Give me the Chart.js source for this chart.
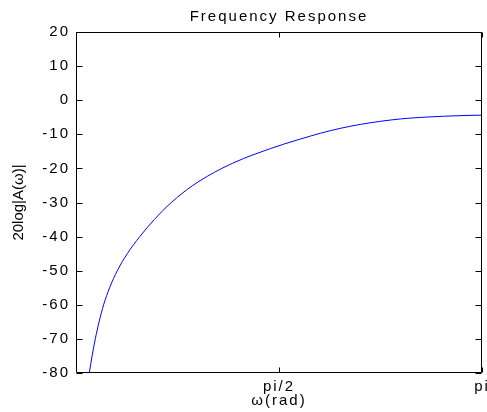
<!DOCTYPE html>
<html>
<head>
<meta charset="utf-8">
<script src="https://cdn.jsdelivr.net/npm/chart.js@4"></script>
<style>
  html, body { margin: 0; padding: 0; background: #ffffff; }
  canvas { display: block; }
</style>
</head>
<body>
<canvas id="c" width="487" height="412"></canvas>
<script>
// ---- data ----
const omega = [0.1029, 0.1246, 0.1493, 0.1787, 0.2136, 0.2600, 0.3196, 0.3969, 0.4937, 0.6059, 0.7374, 0.9038, 1.1282, 1.2969, 1.4005, 1.5035, 1.6064, 1.7356, 1.8904, 2.0451, 2.1999, 2.3546, 2.5094, 2.6641, 2.8444, 3.0255, 3.1416];
const magnitudeDb = [-80, -75, -70, -65, -60, -55, -50, -45, -40, -35, -30, -25, -20, -17.1, -15.6, -14.2, -12.9, -11.4, -9.7, -8.25, -7.1, -6.2, -5.5, -5.05, -4.7, -4.47, -4.38];
const xTickValues = [Math.PI / 2, Math.PI];
const xTickLabels = ['pi/2', 'pi'];
const yTickValues = [20, 10, 0, -10, -20, -30, -40, -50, -60, -70, -80];
const chartTitle = 'Frequency Response';
const xTitle = 'ω(rad)';
const yTitle = '20log|A(ω)|';

const FONT = { family: '"Liberation Sans", Arial, Helvetica, sans-serif', size: 15 };

const framePlugin = {
  id: 'frame',
  beforeDraw(chart) {
    chart.ctx.letterSpacing = '2px';
    const ys = chart.scales.y;
    if (ys && !ys._titlePatched) {
      const orig = ys.drawTitle;
      ys.drawTitle = function () {
        const c = this.ctx;
        const prev = c.letterSpacing;
        c.letterSpacing = '0px';
        orig.call(this);
        c.letterSpacing = prev;
      };
      ys._titlePatched = true;
    }
  },
  afterDraw(chart) {
    const { ctx, chartArea } = chart;
    const x = chart.scales.x, y = chart.scales.y;
    const L = Math.round(chartArea.left) + 0.5, R = Math.round(chartArea.right) - 0.5;
    const T = Math.round(chartArea.top) + 0.5, B = Math.round(chartArea.bottom) - 0.5;
    ctx.save();
    ctx.strokeStyle = '#000000';
    ctx.lineWidth = 1;
    ctx.beginPath();
    ctx.rect(L, T, R - L, B - T);
    y.ticks.forEach((t, i) => {
      const py = Math.round(y.getPixelForTick(i)) + 0.5;
      ctx.moveTo(L, py); ctx.lineTo(L + 6, py);
      ctx.moveTo(R, py); ctx.lineTo(R - 6, py);
    });
    x.ticks.forEach((t, i) => {
      const px = Math.round(x.getPixelForTick(i)) + 0.5;
      ctx.moveTo(px, B); ctx.lineTo(px, B - 5);
      ctx.moveTo(px, T); ctx.lineTo(px, T + 5);
    });
    ctx.stroke();
    ctx.restore();
  }
};

new Chart(document.getElementById('c'), {
  type: 'line',
  data: {
    datasets: [{
      data: omega.map((w, i) => ({ x: w, y: magnitudeDb[i] })),
      borderColor: 'rgb(0,0,255)',
      borderWidth: 1,
      pointRadius: 0,
      fill: false,
      cubicInterpolationMode: 'monotone'
    }]
  },
  options: {
    responsive: false,
    animation: false,
    devicePixelRatio: 1,
    layout: { padding: { left: 0, right: 5, top: 0, bottom: 0 } },
    plugins: { legend: { display: false }, tooltip: { enabled: false }, title: { display: false } },
    scales: {
      x: {
        type: 'linear', position: 'bottom', min: 0, max: Math.PI,
        grid: { display: false, drawTicks: false },
        border: { display: false },
        afterBuildTicks: (s) => { s.ticks = xTickValues.map(v => ({ value: v })); },
        afterFit: (s) => { s.height = 39; s.paddingLeft = 0; s.paddingRight = 0; },
        ticks: {
          color: '#000', font: FONT, padding: 5, maxRotation: 0, autoSkip: false,
          callback: (v, i) => xTickLabels[i]
        },
        title: { display: true, text: xTitle, color: '#000', font: FONT, padding: { top: 0, bottom: 2 } }
      },
      x2: {
        type: 'linear', position: 'top', min: 0, max: Math.PI,
        grid: { display: false, drawTicks: false },
        border: { display: false },
        ticks: { display: false },
        afterFit: (s) => { s.height = 32; s.paddingLeft = 0; s.paddingRight = 0; },
        title: { display: true, text: chartTitle, color: '#000', font: FONT, padding: { top: 7.5, bottom: 0 } }
      },
      y: {
        type: 'linear', position: 'left', min: -80, max: 20,
        grid: { display: false, drawTicks: false },
        border: { display: false },
        afterBuildTicks: (s) => { s.ticks = yTickValues.map(v => ({ value: v })); },
        afterFit: (s) => { s.width = 76; s.paddingTop = 0; s.paddingBottom = 0; },
        ticks: { color: '#000', font: FONT, padding: 6 },
        title: { display: true, text: yTitle, color: '#000', font: FONT, padding: { top: 10, bottom: 0 } }
      }
    }
  },
  plugins: [framePlugin]
});
</script>
</body>
</html>
